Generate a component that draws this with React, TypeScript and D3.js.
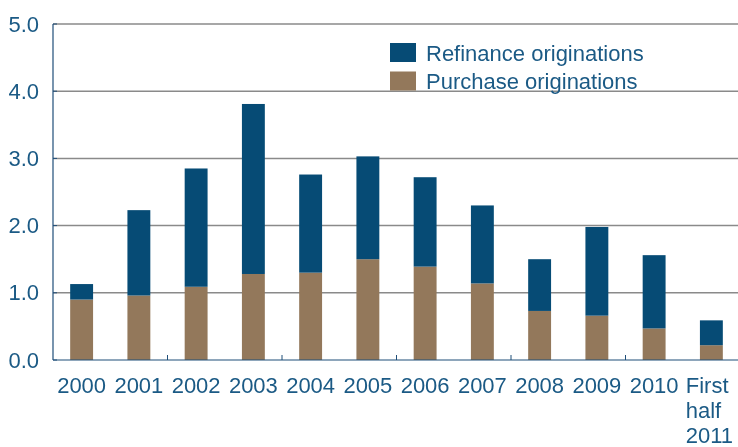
import { useEffect, useRef } from "react";
import * as d3 from "d3";

const categories = ["2000", "2001", "2002", "2003", "2004", "2005", "2006", "2007", "2008", "2009", "2010", "First half 2011"];
const purchase = [0.9, 0.96, 1.09, 1.28, 1.3, 1.5, 1.39, 1.14, 0.73, 0.66, 0.47, 0.22];
const refinance = [0.23, 1.27, 1.76, 2.53, 1.46, 1.53, 1.33, 1.16, 0.77, 1.32, 1.09, 0.37];
const yTicks = [0, 1, 2, 3, 4, 5];

const W = 738;
const H = 447;
const BLUE = "#064b75";
const BROWN = "#93785b";
const TEXT = "#1b5a85";
const FONT = "'Liberation Sans', Arial, sans-serif";
const FS = 22;

export default function App() {
  const svgRef = useRef<SVGSVGElement>(null);

  useEffect(() => {
    if (!svgRef.current) return;
    const svg = d3.select(svgRef.current);
    svg.selectAll("*").remove();

    const left = 53;
    const right = 740;
    const x = d3.scaleBand<string>().domain(categories).range([left, right]).paddingInner(0.6).paddingOuter(0.3);
    const y = d3.scaleLinear().domain([0, 5]).range([360, 24]);
    const step = x.step();
    const x0 = (i: number) => (x(categories[i]) ?? 0) + x.bandwidth() / 2 - step / 2;

    // grid lines
    svg.append("g")
      .selectAll("line")
      .data(yTicks.filter((d) => d > 0))
      .join("line")
      .attr("x1", left)
      .attr("x2", W)
      .attr("y1", (d) => y(d))
      .attr("y2", (d) => y(d))
      .attr("stroke", "#8a8a8a")
      .attr("stroke-width", 1.5);

    // stacked bars
    const stack = categories.map((c, i) => ({ c, p: purchase[i], r: refinance[i] }));
    const bars = svg.append("g");
    bars.selectAll("rect.p")
      .data(stack)
      .join("rect")
      .attr("class", "p")
      .attr("x", (d) => x(d.c)!)
      .attr("width", x.bandwidth())
      .attr("y", (d) => y(d.p))
      .attr("height", (d) => y(0) - y(d.p))
      .attr("fill", BROWN);
    bars.selectAll("rect.r")
      .data(stack)
      .join("rect")
      .attr("class", "r")
      .attr("x", (d) => x(d.c)!)
      .attr("width", x.bandwidth())
      .attr("y", (d) => y(d.p + d.r))
      .attr("height", (d) => y(d.p) - y(d.p + d.r))
      .attr("fill", BLUE);

    // axes
    svg.append("line")
      .attr("x1", left).attr("x2", left)
      .attr("y1", y(5)).attr("y2", y(0))
      .attr("stroke", "#1f4e79").attr("stroke-width", 1.2);
    svg.append("line")
      .attr("x1", left).attr("x2", W)
      .attr("y1", y(0)).attr("y2", y(0))
      .attr("stroke", "#1f4e79").attr("stroke-width", 1.2);
    svg.append("g")
      .selectAll("line")
      .data([2, 4, 6, 8, 10])
      .join("line")
      .attr("x1", (i) => x0(i)).attr("x2", (i) => x0(i))
      .attr("y1", y(0)).attr("y2", y(0) - 5)
      .attr("stroke", "#1f4e79").attr("stroke-width", 1);
    svg.append("g")
      .selectAll("line")
      .data(yTicks)
      .join("line")
      .attr("x1", left).attr("x2", left + 4)
      .attr("y1", (d) => y(d)).attr("y2", (d) => y(d))
      .attr("stroke", "#1f4e79").attr("stroke-width", 1);

    // y labels
    svg.append("g")
      .selectAll("text")
      .data(yTicks)
      .join("text")
      .attr("x", 39)
      .attr("y", (d) => y(d) + 7.5)
      .attr("text-anchor", "end")
      .attr("font-family", FONT)
      .attr("font-size", FS)
      .attr("fill", TEXT)
      .text((d) => d.toFixed(1));

    // x labels
    const xl = svg.append("g");
    categories.forEach((c, i) => {
      if (c.startsWith("First")) {
        const lines = ["First", "half", "2011"];
        xl.append("text")
          .attr("y", 393)
          .attr("font-family", FONT)
          .attr("font-size", FS)
          .attr("fill", TEXT)
          .selectAll("tspan")
          .data(lines)
          .join("tspan")
          .attr("x", x0(i) + 3)
          .attr("dy", (_, k) => (k === 0 ? 0 : 25))
          .text((d) => d);
      } else {
        xl.append("text")
          .attr("x", x(c)! + x.bandwidth() / 2)
          .attr("y", 393)
          .attr("text-anchor", "middle")
          .attr("font-family", FONT)
          .attr("font-size", FS)
          .attr("fill", TEXT)
          .text(c);
      }
    });

    // legend
    const legend = [
      { label: "Refinance originations", color: BLUE },
      { label: "Purchase originations", color: BROWN },
    ];
    const lg = svg.append("g").attr("transform", "translate(390,43)");
    legend.forEach((d, i) => {
      lg.append("rect")
        .attr("x", 0).attr("y", i * 28.5)
        .attr("width", 26).attr("height", 19)
        .attr("fill", d.color);
      lg.append("text")
        .attr("x", 36).attr("y", i * 28.5 + 17.5)
        .attr("font-family", FONT)
        .attr("font-size", FS)
        .attr("fill", TEXT)
        .text(d.label);
    });
  }, []);

  return (
    <div style={{ position: "fixed", left: 0, top: 0, width: W, height: H, overflow: "hidden" }}>
      <svg ref={svgRef} width={W} height={H} style={{ display: "block" }} />
    </div>
  );
}
